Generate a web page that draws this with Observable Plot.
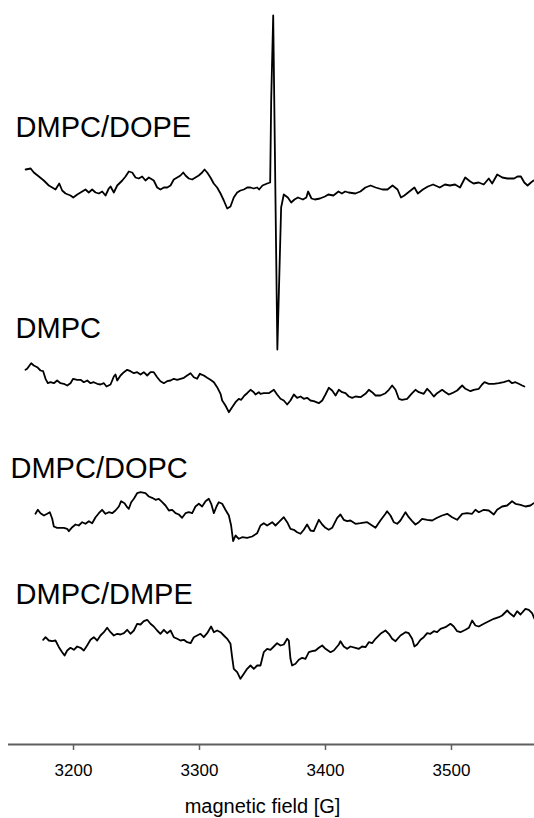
<!DOCTYPE html>
<html>
<head>
<meta charset="utf-8">
<script src="https://cdn.jsdelivr.net/npm/d3@7"></script>
<script src="https://cdn.jsdelivr.net/npm/@observablehq/plot@0.6"></script>
<style>
  html, body { margin: 0; padding: 0; background: #fff; }
  #chart svg { display: block; }
</style>
</head>
<body>
<div id="chart"></div>
<script>
// ---- data (field in gauss, signal in arbitrary units) ----
const seriesNames = ["DMPC/DOPE", "DMPC", "DMPC/DOPC", "DMPC/DMPE"];

const fieldDOPE = [3162,3166,3168.5,3172.5,3176.4,3180.4,3183.1,3185.7,3188.7,3191,3193.7,3197.6,3199.8,3203,3206.9,3209.5,3212.1,3214.8,3217.5,3220.1,3222.8,3225.4,3228,3229.4,3232,3234.7,3238.7,3241.3,3243.9,3246.6,3249.2,3251.8,3254.5,3257.1,3259.8,3263.7,3266.4,3269,3271.7,3274.4,3277,3279.6,3282.3,3284.9,3287.1,3288.9,3291.5,3294.2,3296.8,3299.4,3302.1,3304,3306.1,3308.7,3311.3,3314,3316.7,3319.3,3322,3324.6,3327.2,3329.9,3332.5,3335.2,3337.9,3340.5,3343.1,3345.8,3347.3,3350,3353.7,3356.1,3356.9,3358.5,3361.8,3364.8,3366.9,3370.1,3372.8,3375.4,3378.1,3382.1,3384.8,3386.2,3388.9,3391.5,3395.6,3399.6,3402.2,3406.3,3410.3,3413,3415.6,3418.3,3423.7,3427.7,3431.7,3435.8,3439.8,3445.2,3449.2,3453.2,3457.2,3459.9,3462.6,3466.6,3470.6,3473.3,3477.3,3481.3,3485.4,3490.7,3494.8,3498.8,3502.8,3506.8,3510.9,3514.9,3517.5,3521.6,3525.6,3529.6,3532.3,3536.3,3540.3,3544.4,3549.7,3552.4,3555.1,3557.8,3560.4,3563.1,3565.2];
const signalDOPE = [16,17,13,9,5,0,-2,-4,2,-5,-8,-10,-12,-9,-6,-4,-7,-4,-7,-8,-6,-10,-3,-1,-7,0,5,9,14,13,8,7,9,5,8,5,-2,-4,-2,-2,0,6,8,10,13,10,7,6,8,10,13,16,13,8,2,-2,-8,-15,-23,-21,-12,-7,-5,-4,-2,-2,-3,-2,-4,0,2,3,85,170,-164,-22,-9,-12,-17,-14,-12,-14,-12,-6,-13,-14,-13,-11,-9,-10,-6,-8,-6,-7,-8,-6,-2,0,-2,-4,-4,0,-4,-12,-10,-6,-2,-8,-4,-1,1,-2,1,0,1,-2,8,4,2,3,1,7,2,11,8,7,7,9,9,3,0,3,5];

const fieldDMPC = [3161.9,3163.2,3164.5,3166.4,3168.5,3171.2,3173.8,3175.9,3177.8,3179.6,3181.7,3184.4,3187,3189.7,3192.3,3195,3197.6,3199.7,3202.9,3205.6,3208.2,3210.9,3213.5,3216.1,3218.8,3221.4,3224.1,3226.2,3229.4,3232,3233.3,3234.7,3237.3,3240,3242.6,3245.2,3247.9,3250.5,3253.2,3255.8,3258.5,3261.1,3263.7,3266.4,3269,3271.7,3274.3,3277,3279.6,3282.3,3284.9,3287.6,3290.2,3292.9,3295.5,3298.1,3300.3,3303.4,3306.1,3308.7,3311.4,3314,3316.7,3318,3320.6,3323.3,3325.9,3328.6,3331.2,3333.1,3335.7,3337.8,3340.5,3343.1,3344.4,3347.1,3348.4,3351,3355,3359,3361.6,3364.3,3366.9,3369.6,3372.2,3374.9,3377.5,3380.2,3382.8,3385.4,3388.1,3390.7,3394.7,3397.4,3400,3402.6,3405.3,3408,3410.6,3413.2,3415.9,3418.5,3421.2,3423.8,3427.8,3431.7,3434.4,3437,3439.7,3443.6,3447.6,3450.3,3452.9,3455.6,3458.2,3460.8,3464.8,3468.8,3471.4,3474.1,3478,3480.7,3483.3,3486,3488.6,3492.6,3495.2,3497.9,3500.5,3504.5,3508.5,3511.1,3515.1,3517.7,3521.7,3524.3,3526.2,3529.6,3533.6,3537.6,3541.5,3545.5,3548.1,3550.8,3553.4,3556.1,3557.9];
const signalDMPC = [10.7,11.7,14,17.3,15,13.3,10,9.3,1.7,-2.7,-1.7,-2.7,0,-2.7,-3.3,-5,-2.7,1.7,0.7,0.7,-1.7,0,-2.7,-1.7,-3.3,-4,-2.7,-6,-4,4,6,0,5,8.3,10.7,9.3,7.3,8.3,6,8.3,5,8.3,8.3,3.3,-0.7,-2.7,-0.7,0,1.7,0.7,1.7,2.7,5,7.3,3.3,1.7,6.7,5,2.7,0.7,-1.7,-6.7,-13.3,-20,-25,-31.7,-26.7,-21.7,-18.3,-19.3,-15,-12.7,-9.3,-11.7,-14,-11.7,-13.3,-12.7,-12.7,-9.3,-14,-18.3,-20,-24,-20,-14,-17.3,-16,-18.3,-17.3,-20,-20.7,-22.7,-20,-14,-7.3,-10,-15,-9.3,-11.7,-12.7,-16,-17.3,-16,-16.7,-13.3,-9.3,-11.7,-15,-15,-12.7,-9.3,-5,-9.3,-18.3,-19.3,-18.3,-12.7,-9.3,-11.7,-13.3,-8.3,-11.7,-16,-12.7,-9.3,-11.7,-14,-12.7,-10,-5,-8.3,-10.7,-9.3,-8.3,-4,-1.7,-3.3,-3.3,-2.7,-1.7,0,-2.7,-1.7,-3.3,-5,-6];

const fieldDOPC = [3169.8,3171.7,3173.8,3176.5,3179.1,3181.2,3183.1,3184.4,3187,3189.7,3192.3,3195,3196.3,3199,3201.6,3204.2,3206.9,3209.5,3212.2,3214.8,3217.5,3220.1,3222.7,3225.4,3228,3230.7,3233.3,3236,3237.8,3240.5,3242.6,3243.9,3245.8,3247.9,3250.5,3253.2,3257.1,3259.8,3262.4,3265.1,3267.7,3270.4,3273,3275.7,3278.3,3281,3283.6,3286.2,3288.9,3291.5,3294.2,3296.8,3299.5,3302.1,3304.8,3307.4,3309.3,3311.4,3313.5,3315.3,3318,3320.6,3323.3,3325.1,3326.7,3328.6,3331.2,3333.9,3337.8,3341.8,3345.8,3348.4,3351,3353.7,3357.7,3360.3,3363,3366.9,3369.6,3372.2,3374.9,3377.5,3380.2,3382.8,3385.4,3388.1,3390.7,3394.7,3397.4,3400,3402.6,3405.3,3409.3,3411.9,3414.5,3417.2,3419.8,3423.8,3427.8,3433.1,3437,3439.7,3443.6,3447.6,3448.9,3451.6,3454.2,3456.9,3459.5,3463.5,3466.1,3468.8,3471.4,3474.1,3476.7,3480.7,3484.7,3488.6,3492.6,3496.6,3500.5,3504.5,3508.5,3512.4,3516.4,3519,3521.7,3525.7,3529.6,3533.6,3536.2,3540.2,3544.2,3548.1,3550.8,3554.8,3558.7,3562.7,3565.3];
const signalDOPC = [1.7,5.7,2.3,0,1.7,3.3,-3.3,-11,-12.3,-12.3,-12.3,-13.3,-15.7,-11.7,-9,-10,-6.7,-8.3,-5.7,-7.7,-1.7,2.3,5.7,1.7,3.3,2.3,5,9,14.3,12.3,8.3,6.7,13.3,16.7,22.3,23.3,22.3,19,17.7,15.7,16.7,13.3,10,5,5.7,2.3,1,-2.3,2.3,3.3,2.3,9,11.7,9,14.3,16.7,11.7,2.3,9,13.3,11.7,5.7,0,-10,-25.7,-20,-23.3,-21.7,-22.3,-21,-17.7,-10,-7.7,-10,-6.7,-10,-6.7,-1.7,-6.7,-13.3,-14.3,-16.7,-18.3,-14.3,-9,-15,-15.7,-4.3,-9,-12.3,-14.3,-12.3,-2.3,1,-4.3,-5.7,-5,-8.3,-7.7,-6.7,-10,-12.3,-5,1.7,4.3,0,-6.7,-8.3,-5,3.3,-1.7,-5.7,-9,-6.7,-3.3,-4.3,-5,-2.3,0,1.7,-1.7,-4.3,1.7,2.3,1.7,5.7,3.3,5.7,5,1,5.7,9,10,14.3,11.7,10.7,9,10,12.3];

const fieldDMPE = [3175.9,3177.8,3180.4,3183.1,3185.7,3188.4,3191,3192.9,3195,3197.6,3200.3,3202.9,3205.6,3208.2,3210.8,3213.5,3216.1,3218.8,3221.4,3224.1,3226.7,3229.4,3232,3234.7,3237.3,3240,3242.6,3245.2,3247.9,3250.5,3253.2,3255.8,3258.5,3261.1,3263.7,3266.4,3269,3271.7,3274.3,3277,3279.6,3282.3,3284.9,3287.6,3290.2,3292.9,3295.5,3298.1,3300.8,3303.4,3306.1,3309.2,3311.4,3314,3316.7,3319.3,3322,3324.6,3325.9,3327.2,3329.9,3332.5,3335.2,3337.8,3340.5,3343.1,3345.8,3348.4,3351,3353.7,3356.3,3359,3361.6,3364.3,3366.9,3369.6,3370.9,3372.2,3373.5,3376.2,3378.8,3381.5,3384.1,3386.8,3389.4,3392.1,3394.7,3397.4,3400,3404,3406.6,3410.6,3411.9,3414.5,3417.2,3419.8,3423.8,3426.5,3429.1,3431.7,3434.4,3437,3439.7,3443.6,3447.6,3450.3,3452.9,3455.6,3459.5,3463.5,3466.1,3468.8,3470.6,3472.7,3475.4,3478,3480.7,3483.3,3486,3488.6,3491.3,3495.2,3499.2,3501.8,3504.5,3507.1,3511.1,3513.8,3516.4,3519,3521.7,3525.7,3529.6,3533.6,3537.6,3540.2,3544.2,3546.8,3549.5,3552.1,3554.8,3558.7,3561.4,3564,3565.9];
const signalDMPE = [0.7,3.3,0,-0.7,0,-6.7,-11.7,-15,-10,-7.3,-9.3,-6,-7.3,-10,-5,0.7,3.3,0,5,8.3,12.7,8.3,5,6.7,6,7.3,10.7,6.7,10,16.7,16,19.3,20.7,16.7,14,10,6.7,10.7,7.3,10,3.3,1.7,0,0.7,-1.7,-2.7,3.3,5,6.7,3.3,7.3,14,8.3,10,8.3,5,1.7,-3.3,-16.7,-28.3,-31.7,-38.3,-33.3,-28.3,-25,-28.3,-25,-25,-11.7,-8.3,-9.3,-6,-2.7,-5,-4,1.7,0,-18.3,-25,-23.3,-19.3,-17.3,-18.3,-11.7,-10.7,-10,-7.3,-5,-8.3,-11.7,-10,-4,-0.7,-6,-8.3,-6,-7.3,-8.3,-6,-6.7,-1.7,-2.7,1.7,6.7,10,6.7,1.7,-0.7,5,8.3,7.3,1.7,-6,-4,0.7,3.3,7.3,6.7,9.3,8.3,11.7,13.3,16.7,14,9.3,8.3,10.7,12.7,20,15,14,16.7,19.3,21.7,23.3,25,30,26.7,24,29.3,26,31.7,30.7,27.3,21.7];

const tickValues = [3200, 3300, 3400, 3500];
const axisLabel = "magnetic field [G]";

// ---- layout (not data) ----
const offsets = [559, 364, 229, 104];         // vertical stacking of the traces
const labelField = [3154, 3154, 3150, 3154];  // label start along the field axis
const labelRise = [49, 43, 38, 37];           // label baseline above trace baseline

const fields = [fieldDOPE, fieldDMPC, fieldDOPC, fieldDMPE];
const signals = [signalDOPE, signalDMPC, signalDOPC, signalDMPE];

const rows = [];
seriesNames.forEach((name, i) => {
  fields[i].forEach((f, j) => rows.push({series: name, field: f, value: signals[i][j] + offsets[i]}));
});
const labels = seriesNames.map((name, i) => ({name, x: labelField[i], y: offsets[i] + labelRise[i]}));

const W = 534, H = 818, MB = 74;
const yDomain = [0, H - MB];
const xDomain = [3148.4, 3565.9];

const chart = Plot.plot({
  width: W,
  height: H,
  marginLeft: 8,
  marginRight: 0,
  marginTop: 0,
  marginBottom: MB,
  style: {fontFamily: "'Liberation Sans', Arial, Helvetica, sans-serif", background: "#fff", color: "#000"},
  x: {domain: xDomain},
  y: {domain: yDomain, axis: null},
  marks: [
    Plot.ruleY([yDomain[0]], {stroke: "#5f5f5f", strokeWidth: 2}),
    Plot.axisX({ticks: tickValues, tickSize: 6, tickPadding: 13, fontSize: 17, stroke: "#5f5f5f", strokeWidth: 1.5, fill: "#000", label: null, tickFormat: d => String(d)}),
    Plot.line(rows, {x: "field", y: "value", z: "series", stroke: "#000", strokeWidth: 1.8, strokeLinejoin: "round", curve: "linear"}),
    Plot.text(labels, {x: "x", y: "y", text: "name", textAnchor: "start", lineAnchor: "bottom", fontSize: 29, fill: "#000"}),
    Plot.text([axisLabel], {x: [3350], frameAnchor: "bottom", dy: 68, lineAnchor: "bottom", fontSize: 20, fill: "#000"})
  ]
});
document.getElementById("chart").appendChild(chart);
</script>
</body>
</html>
